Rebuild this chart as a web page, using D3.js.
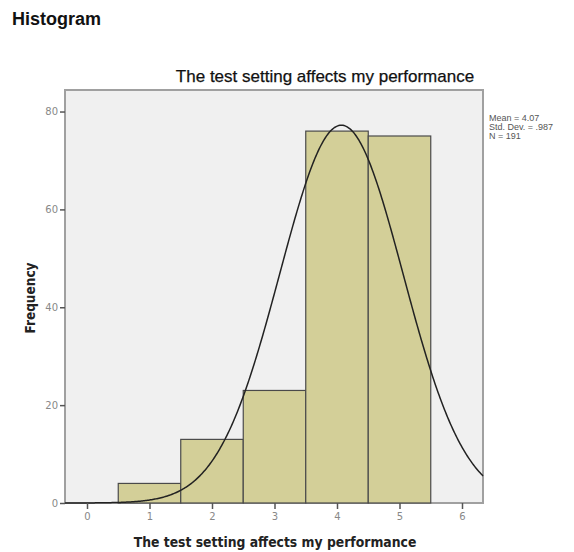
<!DOCTYPE html>
<html><head><meta charset="utf-8">
<script src="https://cdn.jsdelivr.net/npm/d3@7/dist/d3.min.js"></script>
<style>body{margin:0;background:#fff;}svg{display:block;}</style>
</head><body><svg id="c" width="574" height="552"></svg>
<script>
// Data
const binCenters = [1, 2, 3, 4, 5];
const frequencies = [4, 13, 23, 76, 75];
const binWidth = 1;
const xTicks = [0, 1, 2, 3, 4, 5, 6];
const yTicks = [0, 20, 40, 60, 80];
const statsLabels = ["Mean = 4.07", "Std. Dev. = .987", "N = 191"];
const mean = 4.07, sd = 0.987, n = 191;

const svg = d3.select("#c");
const L = 65, R = 483, T = 90, B = 503;
const x = d3.scaleLinear().domain([-0.352, 6.336]).range([L, R]);
const y = d3.scaleLinear().domain([0, 84.4]).range([B, T]);

svg.append("text").attr("x", 12).attr("y", 25).text("Histogram")
  .attr("font-family", "Liberation Sans, Arial, sans-serif").attr("font-weight", "bold")
  .attr("font-size", 18).attr("fill", "#111");

svg.append("text").attr("x", 325).attr("y", 82).attr("text-anchor", "middle")
  .text("The test setting affects my performance")
  .attr("font-family", "Liberation Sans, Arial, sans-serif").attr("font-size", 17)
  .attr("fill", "#111").attr("stroke", "#111").attr("stroke-width", 0.25);

// plot background
svg.append("rect").attr("x", L).attr("y", T).attr("width", R - L).attr("height", B - T)
  .attr("fill", "#f0f0f0").attr("stroke", "#a0a0a0").attr("stroke-width", 2);

// bars
svg.append("g").selectAll("rect").data(binCenters).join("rect")
  .attr("x", (d) => x(d - binWidth / 2))
  .attr("width", (d) => x(d + binWidth / 2) - x(d - binWidth / 2))
  .attr("y", (d, i) => y(frequencies[i]))
  .attr("height", (d, i) => y(0) - y(frequencies[i]))
  .attr("fill", "#d3cf98").attr("stroke", "#4a4a4a").attr("stroke-width", 1.2);

// normal curve
const pts = d3.range(0, 401).map(i => {
  const xv = -0.352 + i * (6.336 + 0.352) / 400;
  const z = (xv - mean) / sd;
  return [xv, n * binWidth * Math.exp(-0.5 * z * z) / (sd * Math.sqrt(2 * Math.PI))];
});
svg.append("path").datum(pts)
  .attr("d", d3.line().x(d => x(d[0])).y(d => y(d[1])))
  .attr("fill", "none").attr("stroke", "#222").attr("stroke-width", 1.5);

// axes
const yAxis = d3.axisLeft(y).tickValues(yTicks).tickSize(5).tickPadding(2).tickFormat(d3.format("d"));
const gy = svg.append("g").attr("transform", `translate(${L},0)`).call(yAxis);
const xAxis = d3.axisBottom(x).tickValues(xTicks).tickSize(6).tickPadding(4).tickFormat(d3.format("d"));
const gx = svg.append("g").attr("transform", `translate(0,${B})`).call(xAxis);
[gx, gy].forEach(g => {
  g.select(".domain").remove();
  g.selectAll(".tick line").attr("stroke", "#555").attr("stroke-width", 1.5);
  g.selectAll(".tick text").attr("fill", "#888").attr("font-size", 10)
    .attr("font-family", "DejaVu Sans, sans-serif");
});

// axis titles
svg.append("text").attr("x", 275).attr("y", 547).attr("text-anchor", "middle")
  .text("The test setting affects my performance")
  .attr("font-family", "DejaVu Sans Condensed, DejaVu Sans, sans-serif").attr("font-weight", "bold")
  .attr("font-size", 13.8).attr("fill", "#222");
svg.append("text").attr("transform", "translate(35,298) rotate(-90)").attr("text-anchor", "middle")
  .text("Frequency")
  .attr("font-family", "DejaVu Sans Condensed, DejaVu Sans, sans-serif").attr("font-weight", "bold")
  .attr("font-size", 13.5).attr("fill", "#222");

// stats
svg.append("g").selectAll("text").data(statsLabels).join("text")
  .attr("x", 489).attr("y", (d, i) => 121 + i * 9)
  .text(d => d).attr("font-family", "Liberation Sans, Arial, sans-serif")
  .attr("font-size", 9).attr("fill", "#555");
</script></body></html>
